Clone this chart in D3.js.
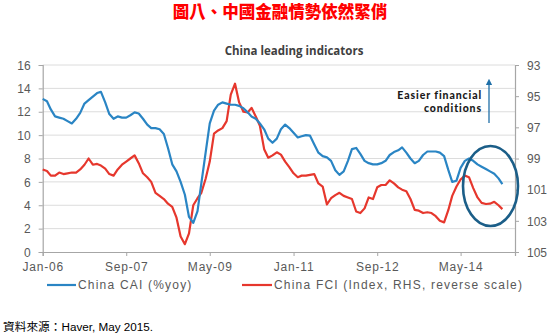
<!DOCTYPE html>
<html><head><meta charset="utf-8">
<script src="https://cdn.jsdelivr.net/npm/d3@7"></script>
<style>
body{margin:0;background:#fff;}
svg{display:block;}
</style></head>
<body><svg id="c" width="558" height="333"></svg>
<script>
const startMonth = "2006-01";
const caiValues = [13.1,12.9,12.2,11.6,11.5,11.4,11.2,11.0,11.4,11.9,12.7,13.0,13.3,13.6,13.7,12.8,11.8,11.4,11.6,11.5,
11.5,11.7,11.95,11.85,11.4,10.9,10.6,10.6,10.5,10.1,8.9,7.5,6.9,6.0,4.9,3.0,2.5,3.5,5.9,8.5,
11.0,12.1,12.6,12.8,12.7,12.6,12.6,12.5,12.3,11.95,11.6,11.4,11.0,10.5,9.7,9.35,9.7,10.5,10.9,10.6,
10.2,9.8,9.9,10.0,9.95,9.2,8.5,8.2,8.1,7.8,7.0,6.6,6.9,7.8,8.8,8.9,8.4,7.8,7.6,7.5,
7.5,7.6,7.8,8.3,8.55,8.7,8.95,8.5,8.0,7.6,7.8,8.3,8.6,8.6,8.6,8.5,8.2,7.0,6.0,6.1,
7.2,7.8,8.0,7.8,7.5,7.3,7.1,6.9,6.7,6.3,5.8];
const fciValues = [99.7,99.8,100.1,100.1,99.9,100.0,99.95,99.9,99.9,99.7,99.4,99.0,99.4,99.35,99.45,99.65,100.0,100.1,99.7,99.4,
99.2,99.0,98.8,99.3,99.95,100.2,100.5,101.2,101.4,101.6,101.9,102.1,102.8,104.0,104.5,103.8,102.0,101.55,101.2,100.3,
99.2,97.4,97.2,97.05,96.6,94.9,94.2,95.4,96.0,96.05,95.75,96.3,96.9,98.4,98.95,98.8,98.6,98.75,99.2,99.55,
99.95,100.2,100.1,100.1,100.05,100.0,100.6,100.8,101.95,101.55,101.35,101.2,101.4,101.5,101.6,102.4,102.5,102.2,101.5,101.6,
100.85,100.7,100.7,100.4,100.6,100.85,101.0,101.1,101.6,102.3,102.35,102.5,102.45,102.5,102.7,103.0,103.1,102.3,101.4,100.8,
100.35,100.1,100.2,100.9,101.5,101.85,101.92,101.9,101.78,102.0,102.25];
const xTickLabels = ["Jan-06","Sep-07","May-09","Jan-11","Sep-12","May-14"];
const leftTicks = [0,2,4,6,8,10,12,14,16];
const rightTicks = [93,95,97,99,101,103,105];
const seriesNames = ["China CAI (%yoy)","China FCI (Index, RHS, reverse scale)"];
const titleText = "圖八、中國金融情勢依然緊俏";
const chartTitle = "China leading indicators";
const annotation = ["Easier financial","conditions"];
const sourceText = "資料來源：Haver, May 2015.";

const parseM = d3.timeParse("%Y-%m");
const parseTick = d3.timeParse("%b-%y");
const fmtTick = d3.timeFormat("%b-%y");
const t0 = parseM(startMonth);
const dates = caiValues.map((_, i) => d3.timeMonth.offset(t0, i));

const L = 42.7, R = 515, T = 65, B = 252;
const x = d3.scaleTime().domain([t0, d3.timeMonth.offset(t0, 113)]).range([L, R]);
const yL = d3.scaleLinear().domain([0, 16]).range([B, T]);
const yR = d3.scaleLinear().domain([93, 105]).range([T, B]);

const svg = d3.select("#c");
const blue = "#2a85c4", red = "#e6372d", axisCol = "#a6a6a6", txt = "#595959";
const tickFont = "'Liberation Sans', Arial, sans-serif";

svg.append("text").attr("x", 280).attr("y", 18).attr("text-anchor", "middle")
  .attr("font-family", "'Noto Sans CJK TC', sans-serif").attr("font-weight", "900")
  .attr("font-size", 16.5).attr("fill", "#ff0000").text(titleText);

svg.append("text").attr("x", 294).attr("y", 55).attr("text-anchor", "middle")
  .attr("font-family", "'Open Sans', sans-serif").attr("font-weight", "bold")
  .attr("font-size", 11.5).attr("fill", "#404040").text(chartTitle);

// gridlines
svg.append("g").selectAll("line").data(leftTicks.filter(d => d > 0)).join("line")
  .attr("x1", L).attr("x2", R).attr("y1", d => yL(d)).attr("y2", d => yL(d))
  .attr("stroke", "#dcdcdc").attr("stroke-width", 1);

// left axis
const gl = svg.append("g").attr("transform", `translate(${L},0)`)
  .call(d3.axisLeft(yL).tickValues(leftTicks).tickSize(4).tickPadding(8));
// right axis
const gr = svg.append("g").attr("transform", `translate(${R},0)`)
  .call(d3.axisRight(yR).tickValues(rightTicks).tickSize(4).tickPadding(8));
// bottom axis
const gb = svg.append("g").attr("transform", `translate(0,${B})`)
  .call(d3.axisBottom(x).tickValues(xTickLabels.map(s => parseTick(s))).tickFormat(fmtTick).tickSize(4).tickPadding(6));

[gl, gr, gb].forEach(g => {
  g.select(".domain").attr("stroke", axisCol).attr("stroke-width", 1.2);
  g.selectAll(".tick line").attr("stroke", axisCol);
  g.selectAll(".tick text").attr("fill", txt).attr("font-family", tickFont).attr("font-size", 12);
});
gb.selectAll(".tick text").attr("letter-spacing", "0.8px");
gl.selectAll(".tick text").attr("dy", "0.35em");
gr.selectAll(".tick text").attr("dy", "0.35em");

// lines
const lineCAI = d3.line().x((d, i) => x(dates[i])).y(d => yL(d));
const lineFCI = d3.line().x((d, i) => x(dates[i])).y(d => yR(d));
svg.append("path").datum(fciValues).attr("d", lineFCI).attr("fill", "none")
  .attr("stroke", red).attr("stroke-width", 2.2).attr("stroke-linejoin", "round");
svg.append("path").datum(caiValues).attr("d", lineCAI).attr("fill", "none")
  .attr("stroke", blue).attr("stroke-width", 2.2).attr("stroke-linejoin", "round");

// annotation
annotation.forEach((s, i) => svg.append("text").attr("text-anchor", "end")
  .attr("x", 482).attr("y", 98.5 + i * 13)
  .attr("font-family", "Lato, sans-serif").attr("font-weight", "900")
  .attr("font-size", 10.5).attr("letter-spacing", "0.9px").attr("fill", "#1a1a1a").text(s));
svg.append("defs").append("marker").attr("id", "ah").attr("viewBox", "0 0 10 10")
  .attr("refX", 5).attr("refY", 5).attr("markerWidth", 5).attr("markerHeight", 5).attr("orient", "auto")
  .append("path").attr("d", "M0,0L10,5L0,10z").attr("fill", "#1f6fa8");
svg.append("line").attr("x1", 489).attr("x2", 489).attr("y1", 123).attr("y2", 82)
  .attr("stroke", "#1f6fa8").attr("stroke-width", 1.3).attr("marker-end", "url(#ah)");

// ellipse
svg.append("ellipse").attr("cx", 490.5).attr("cy", 186).attr("rx", 27.5).attr("ry", 40)
  .attr("fill", "none").attr("stroke", "#1b5e88").attr("stroke-width", 2.6);

// legend
const legend = [{name: seriesNames[0], color: blue, x0: 47, x1: 76}, {name: seriesNames[1], color: red, x0: 242, x1: 272}];
legend.forEach(d => {
  svg.append("line").attr("x1", d.x0).attr("x2", d.x1).attr("y1", 285).attr("y2", 285)
    .attr("stroke", d.color).attr("stroke-width", 2.2);
  svg.append("text").attr("x", d.x1 + 2).attr("y", 289).attr("font-family", tickFont)
    .attr("font-size", 12).attr("letter-spacing", "1.2px").attr("fill", txt).text(d.name);
});

svg.append("text").attr("x", 3).attr("y", 331).attr("font-family", "'Liberation Sans', 'Noto Sans CJK TC', sans-serif")
  .attr("font-size", 11.7).attr("fill", "#000").text(sourceText);
</script></body></html>
